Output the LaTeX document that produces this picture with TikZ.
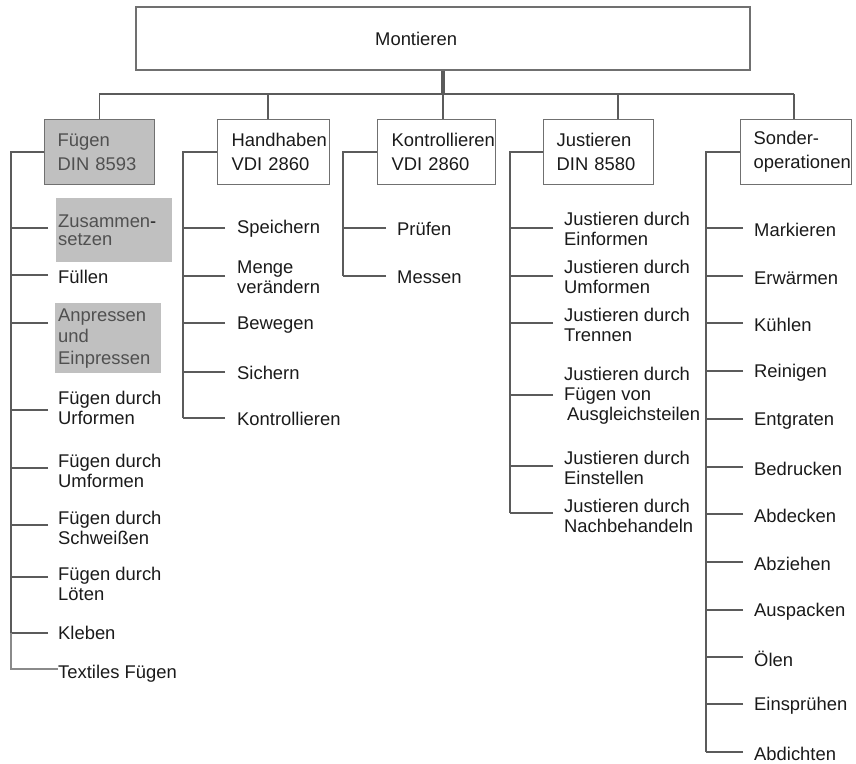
\documentclass[tikz,border=0pt]{standalone}
\usepackage{fontspec}
\setmainfont{Liberation Sans}
\definecolor{linec}{HTML}{5B5B5B}
\definecolor{lightc}{HTML}{8A8A8A}
\definecolor{boxc}{HTML}{707070}
\definecolor{fillg}{HTML}{C0C0C0}
\definecolor{graytext}{HTML}{505050}
\definecolor{textc}{HTML}{1A1A1A}
\newcommand\kid[7]{%
  \coordinate (#1l) at (#3,#5);
  \node[child] (#1) at (#4,#6) {#7};
  \draw[br] (#1l) -- (#1l -| #2);}
\begin{document}
\begin{tikzpicture}[x=1pt,y=-1pt,
  hdr/.style={draw=boxc, line width=1.3pt, minimum height=65pt, align=left,
    anchor=north west, inner ysep=0pt, text=textc,
    font={\fontsize{18.4pt}{24pt}\selectfont}},
  child/.style={anchor=west, inner sep=0pt, align=left, text=textc,
    font={\fontsize{18.4pt}{20pt}\selectfont}},
  graybox/.style={anchor=north west, fill=fillg, align=left, inner ysep=0pt,
    text=graytext},
  sp/.style={draw=linec, line width=2.6pt},
  br/.style={draw=linec, line width=2pt},
  thinl/.style={draw=lightc, line width=1.3pt},
  bus/.style={draw=linec, line width=2.3pt}]
\useasboundingbox (0,0) rectangle (856,763);

% top box
\node[draw=boxc, line width=1.3pt, minimum width=614pt, minimum height=63pt, inner sep=0pt] (top) at (443,38.5) {};
\node[anchor=west, inner sep=0pt, text=textc, font={\fontsize{18.4pt}{24pt}\selectfont}] (toptxt) at (375,39) {Montieren};

% second-level boxes
\node[hdr, fill=fillg, text=graytext, inner xsep=13pt, text width=84pt] (fue) at (44,119) {Fügen\\DIN 8593};
\node[hdr, inner xsep=14pt, text width=84pt] (hand) at (217,119) {Handhaben\\VDI 2860};
\node[hdr, inner xsep=14pt, text width=90pt] (kon) at (377,119) {Kontrollieren\\VDI 2860};
\node[hdr, inner xsep=13pt, text width=84pt] (jus) at (543,119) {Justieren\\DIN 8580};
\node[hdr, inner xsep=13pt, text width=85pt] (son) at (740,119) {Sonder-\\operationen};

% bus
\coordinate (busc) at (443,94);
\draw[draw=linec, line width=3.5pt] (top.south -| busc) -- (busc);
\coordinate (bh) at (268,94);
\draw[thinl, draw=linec] (fue.north) -- (fue.north |- busc) -- (bh);
\draw[bus] (bh) -- (794,94);
\draw[bus] (bh) -- (hand.north -| bh);
\draw[br] (busc) -- (kon.north -| busc);
\draw[br] (618,94) coordinate (bj) -- (jus.north -| bj);
\draw[br] (794,94) coordinate (bs) -- (son.north -| bs);

% spines
\coordinate (fs) at (11,152);
\coordinate (hs) at (183,152);
\coordinate (ks) at (343,152);
\coordinate (js) at (510,152);
\coordinate (ss) at (706,152);

% Fuegen children
\coordinate (f1l) at (48,228);
\node[graybox, inner xsep=2pt, text width=112pt, minimum height=64pt,
  font={\fontsize{18.4pt}{17.5pt}\selectfont}] (f1) at (56,198) {Zusammen\textcolor{textc}{-}\\setzen};
\draw[br] (f1l) -- (f1l -| fs);
\kid{f2}{fs}{48}{58}{275}{277}{Füllen}
\coordinate (f3l) at (48,323);
\node[graybox, inner xsep=3pt, text width=100pt, minimum height=70pt,
  font={\fontsize{18.4pt}{21.5pt}\selectfont}] (f3) at (55,303) {Anpressen\\und\\Einpressen};
\draw[br] (f3l) -- (f3l -| fs);
\kid{f4}{fs}{48}{58}{410}{408}{Fügen durch\\Urformen}
\kid{f5}{fs}{48}{58}{468}{471}{Fügen durch\\Umformen}
\kid{f6}{fs}{48}{58}{525}{528}{Fügen durch\\Schweißen}
\kid{f7}{fs}{48}{58}{577}{584}{Fügen durch\\Löten}
\kid{f8}{fs}{48}{58}{633}{633}{Kleben}
\node[child] (f9) at (58,674) {Textiles Fügen};
\coordinate (f9l) at (58,669);
\draw[sp] (fue.west) -- (fue.west -| fs) -- (fs |- f8l);
\draw[thinl] (fs |- f8l) |- (f9l);

% Handhaben children
\kid{h1}{hs}{225}{237}{228}{229}{Speichern}
\kid{h2}{hs}{225}{237}{276}{277}{Menge\\verändern}
\kid{h3}{hs}{225}{237}{323}{325}{Bewegen}
\kid{h4}{hs}{225}{237}{372}{373}{Sichern}
\kid{h5}{hs}{225}{237}{418}{419}{Kontrollieren}
\draw[sp] (hand.west) -- (hand.west -| hs) -- (hs |- h5l);

% Kontrollieren children
\kid{k1}{ks}{386}{397}{228}{229}{Prüfen}
\kid{k2}{ks}{386}{397}{276}{277}{Messen}
\draw[sp] (kon.west) -- (kon.west -| ks) -- (ks |- k2l);

% Justieren children
\kid{j1}{js}{553}{564}{228}{229}{Justieren durch\\Einformen}
\kid{j2}{js}{553}{564}{276}{277}{Justieren durch\\Umformen}
\kid{j3}{js}{553}{564}{323}{325}{Justieren durch\\Trennen}
\kid{j4}{js}{553}{564}{395}{396}{Justieren durch\\Fügen von\\\hspace*{3pt}Ausgleichsteilen}
\kid{j5}{js}{553}{564}{466}{468}{Justieren durch\\Einstellen}
\kid{j6}{js}{553}{564}{513}{515.5}{Justieren durch\\Nachbehandeln}
\draw[sp] (jus.west) -- (jus.west -| js) -- (js |- j6l);

% Sonderoperationen children
\kid{s1}{ss}{743}{754}{228}{230}{Markieren}
\kid{s2}{ss}{743}{754}{276}{278}{Erwärmen}
\kid{s3}{ss}{743}{754}{323}{325}{Kühlen}
\kid{s4}{ss}{743}{754}{371}{373}{Reinigen}
\kid{s5}{ss}{743}{754}{419}{421}{Entgraten}
\kid{s6}{ss}{743}{754}{467}{469}{Bedrucken}
\kid{s7}{ss}{743}{754}{514}{516}{Abdecken}
\kid{s8}{ss}{743}{754}{562}{564}{Abziehen}
\kid{s9}{ss}{743}{754}{610}{612}{Auspacken}
\kid{s10}{ss}{743}{754}{657}{659}{Ölen}
\kid{s11}{ss}{743}{754}{704}{706}{Einsprühen}
\kid{s12}{ss}{743}{754}{752}{754}{Abdichten}
\draw[sp] (son.west) -- (son.west -| ss) -- (ss |- s12l);
\end{tikzpicture}
\end{document}
